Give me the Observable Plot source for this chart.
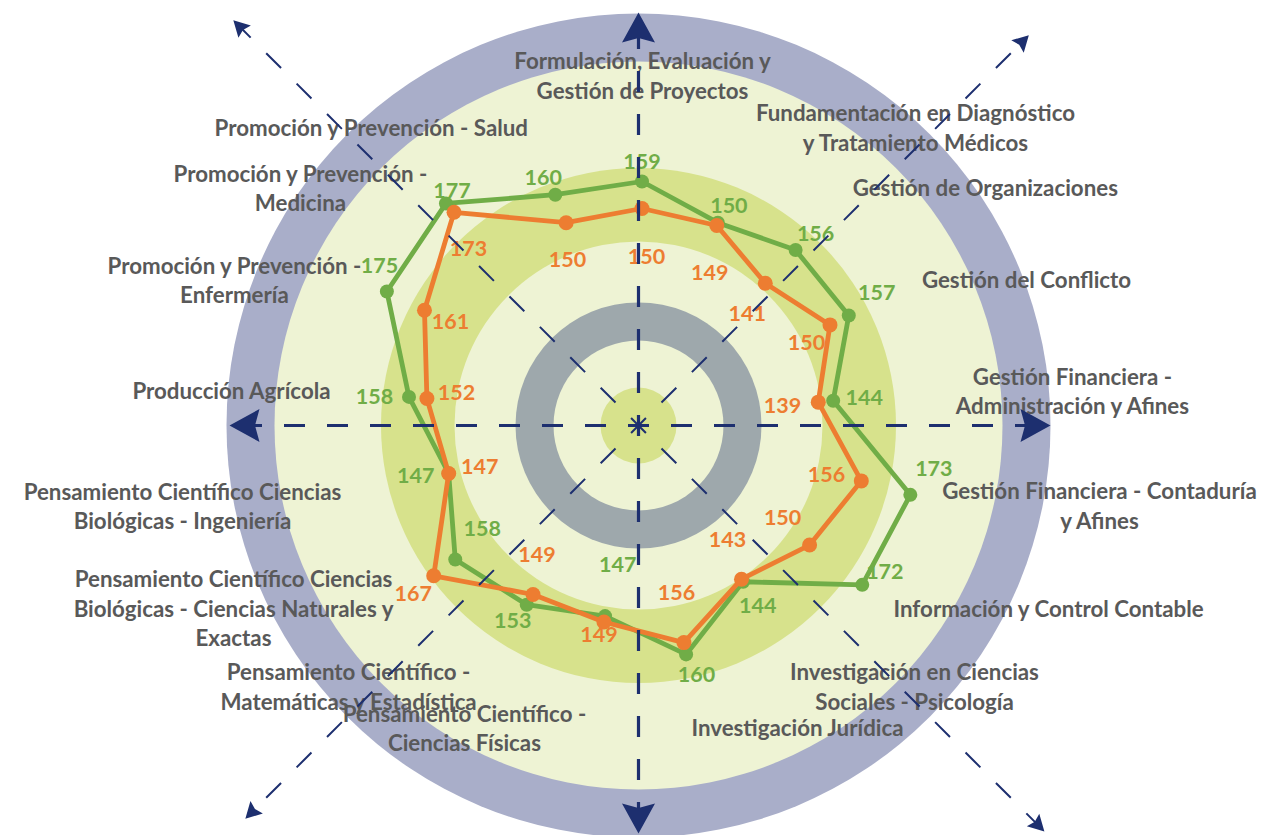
<!DOCTYPE html>
<html><head><meta charset="utf-8">
<script src="https://cdn.jsdelivr.net/npm/d3@7"></script>
<script src="https://cdn.jsdelivr.net/npm/@observablehq/plot@0.6"></script>
<style>html,body{margin:0;padding:0;background:#fff;overflow:hidden;} #chart{width:1262px;height:835px;}</style>
</head><body><div id="chart"></div>
<script>
// ---------- data ----------
const categories = [
  "Formulación, Evaluación y\nGestión de Proyectos",
  "Fundamentación en Diagnóstico\ny Tratamiento Médicos",
  "Gestión de Organizaciones",
  "Gestión del Conflicto",
  "Gestión Financiera -\nAdministración y Afines",
  "Gestión Financiera - Contaduría\ny Afines",
  "Información y Control Contable",
  "Investigación en Ciencias\nSociales - Psicología",
  "Investigación Jurídica",
  "Pensamiento Científico -\nCiencias Físicas",
  "Pensamiento Científico -\nMatemáticas y Estadística",
  "Pensamiento Científico Ciencias\nBiológicas - Ciencias Naturales y\nExactas",
  "Pensamiento Científico Ciencias\nBiológicas - Ingeniería",
  "Producción Agrícola",
  "Promoción y Prevención -\nEnfermería",
  "Promoción y Prevención -\nMedicina",
  "Promoción y Prevención - Salud"
];
const greenValues  = [159,150,156,157,144,173,172,144,160,147,153,158,147,158,175,177,160];
const orangeValues = [150,149,141,150,139,156,150,143,156,149,149,167,147,152,161,173,150];

// ---------- layout (px) ----------
const W = 1262, H = 835;
const PX = 3;                 // px per value unit
const rMin = 80;              // radial axis minimum
const center = {x: 641.5, y: 418};   // chart centre
const bgCenter = {x: 638, y: 425};   // background / axes centre
// category label placement: [angle deg clockwise from top, distance px from bg centre]
const labelPolar = [[0.65,351],[42.8,407.6],[55.4,421.3],[69.25,414.9],[85.3,435.4],[99.72,467.7],[113.9,448.6],[133.3,379.2],[152.15,340.4],[210,348.1],[228.1,389.5],[245.8,444],[260.1,462.9],[275.05,408.6],[289.9,429.7],[305.2,413.7],[318.2,400.9]];
// value label offsets from their points [dx, dy] px
const greenLabelOffset = [[0,-19],[11,-17],[20,-15.5],[28,-22],[31,-3],[23.5,-26],[22.6,-12.6],[14.7,24],[10.4,21],[12.7,-50.6],[-14,16],[27,-30],[-33,3],[-34.5,0.6],[-7.4,-25],[6,-12],[-12,-17]];
const orangeLabelOffset = [[4.5,48.7],[-7,47.7],[-18,31],[-23.5,18.6],[-35.7,4.3],[-34.8,-5.4],[-27,-26.5],[-14,-38.7],[-7.4,-50],[-5,13.5],[4,-39],[-20.5,18.7],[31,-6.3],[29.6,-5],[26,12.3],[14.5,37],[1.4,37]];
const rings = [
  {r: 412, fill: "#a9aec9"},
  {r: 364, fill: "#eef3d4"},
  {r: 257.5, fill: "#d7e28c"},
  {r: 184, fill: "#eef3d4"},
  {r: 123, fill: "#9ea8ac"},
  {r: 85, fill: "#eef3d4"},
  {r: 38, fill: "#d7e28c"}
];
const axesDef = [
  {ang: 0, len: 413, main: true}, {ang: 90, len: 412, main: true},
  {ang: 180, len: 408, main: true}, {ang: 270, len: 409, main: true},
  {ang: 45, len: 552, main: false}, {ang: 135, len: 574, main: false},
  {ang: 225, len: 556, main: false}, {ang: 315, len: 573, main: false}
];
const GREEN = "#70ad47", ORANGE = "#ed7d31", NAVY = "#1d2f6f", TEXT = "#595959";
const FONT = "Lato, 'Open Sans', sans-serif";

// ---------- derived ----------
const n = categories.length;
const ang = i => i * 2 * Math.PI / n;
const bx = (bgCenter.x - center.x) / PX, by = (center.y - bgCenter.y) / PX;
const rad = d => d * Math.PI / 180;

function rows(values, offsets, name) {
  return values.map((v, i) => {
    const x = (v - rMin) * Math.sin(ang(i)), y = (v - rMin) * Math.cos(ang(i));
    return {name, i, v, x, y, lx: x + offsets[i][0] / PX, ly: y - offsets[i][1] / PX};
  });
}
const green = rows(greenValues, greenLabelOffset, "green");
const orange = rows(orangeValues, orangeLabelOffset, "orange");

const catRows = categories.map((c, i) => ({
  c, x: bx + labelPolar[i][1] * Math.sin(rad(labelPolar[i][0])) / PX,
  y: by + labelPolar[i][1] * Math.cos(rad(labelPolar[i][0])) / PX
}));

const axes = axesDef.map(a => ({
  ...a,
  x1: bx, y1: by,
  x2: bx + (a.len - (a.main ? 14 : 6)) * Math.sin(rad(a.ang)) / PX,
  y2: by + (a.len - (a.main ? 14 : 6)) * Math.cos(rad(a.ang)) / PX,
  hx: bx + (a.len - (a.main ? 15 : 8)) * Math.sin(rad(a.ang)) / PX,
  hy: by + (a.len - (a.main ? 15 : 8)) * Math.cos(rad(a.ang)) / PX
}));

const arrowSymbol = {
  draw(ctx, size) {
    const s = Math.sqrt(size / Math.PI);
    ctx.moveTo(0, -s);
    ctx.lineTo(1.1 * s, s);
    ctx.lineTo(0, 0.7 * s);
    ctx.lineTo(-1.1 * s, s);
    ctx.closePath();
  }
};

const bgMarks = rings.map(rg => Plot.dot([rg], {x: () => bx, y: () => by, r: rg.r, fill: rg.fill, stroke: "none"}));

const chart = Plot.plot({
  width: W, height: H, margin: 0,
  x: {domain: [-center.x / PX, (W - center.x) / PX], range: [0, W], axis: null},
  y: {domain: [center.y / PX, -(H - center.y) / PX], range: [0, H], axis: null},
  style: {background: "#ffffff", fontFamily: FONT},
  marks: [
    ...bgMarks,
    Plot.text(catRows, {x: "x", y: "y", text: "c", fill: TEXT, fontSize: 22.3, fontWeight: "bold", lineHeight: 1.32, textAnchor: "middle", lineAnchor: "middle", fontFamily: FONT}),
    Plot.line(green, {x: "x", y: "y", stroke: GREEN, strokeWidth: 4.8, curve: "linear-closed"}),
    Plot.dot(green, {x: "x", y: "y", r: 7, fill: GREEN, stroke: "none"}),
    Plot.line(orange, {x: "x", y: "y", stroke: ORANGE, strokeWidth: 4.8, curve: "linear-closed"}),
    Plot.dot(orange, {x: "x", y: "y", r: 7.5, fill: ORANGE, stroke: "none"}),
    Plot.text(green, {x: "lx", y: "ly", text: d => String(d.v), fill: GREEN, fontSize: 21.5, fontWeight: "bold", fontFamily: FONT}),
    Plot.text(orange, {x: "lx", y: "ly", text: d => String(d.v), fill: ORANGE, fontSize: 21.5, fontWeight: "bold", fontFamily: FONT}),
    Plot.link(axes.filter(a => a.main), {x1: "x1", y1: "y1", x2: "x2", y2: "y2", stroke: NAVY, strokeWidth: 3.2, strokeDasharray: "21,22", strokeDashoffset: 10.5}),
    Plot.link(axes.filter(a => !a.main), {x1: "x1", y1: "y1", x2: "x2", y2: "y2", stroke: NAVY, strokeWidth: 2, strokeDasharray: "21,22", strokeDashoffset: 10.5}),
    Plot.dot(axes.filter(a => a.main), {x: "hx", y: "hy", r: 15, rotate: "ang", symbol: arrowSymbol, fill: NAVY, stroke: "none"}),
    Plot.dot(axes.filter(a => !a.main), {x: "hx", y: "hy", r: 8, rotate: "ang", symbol: arrowSymbol, fill: NAVY, stroke: "none"})
  ]
});
document.getElementById("chart").appendChild(chart);
</script></body></html>
